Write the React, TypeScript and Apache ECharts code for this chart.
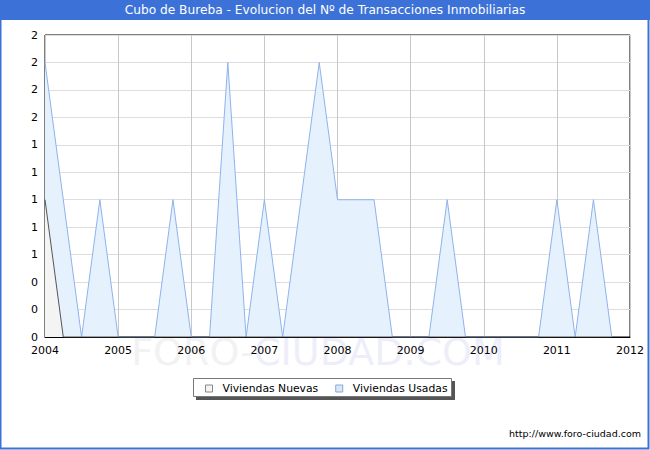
import React, { useEffect, useRef } from "react";
import * as echarts from "echarts";

const TITLE = "Cubo de Bureba - Evolucion del Nº de Transacciones Inmobiliarias";
const URL_TEXT = "http://www.foro-ciudad.com";
const START_YEAR = 2004;
const END_YEAR = 2012;
const seriesNames = ["Viviendas Nuevas", "Viviendas Usadas"];
// quarterly values, 2004 T1 .. 2011 T4
const viviendasNuevas = [1, 0, 0, 0, 0, 0, 0, 0, 0, 0, 0, 0, 0, 0, 0, 0, 0, 0, 0, 0, 0, 0, 0, 0, 0, 0, 0, 0, 0, 0, 0, 0];
const viviendasUsadas = [2, 1, 0, 1, 0, 0, 0, 1, 0, 0, 2, 0, 1, 0, 1, 2, 1, 1, 1, 0, 0, 0, 1, 0, 0, 0, 0, 0, 1, 0, 1, 0];
const xTickLabels = ["2004", "2005", "2006", "2007", "2008", "2009", "2010", "2011", "2012"];
const yTickLabels = ["0", "0", "0", "1", "1", "1", "1", "1", "2", "2", "2", "2"];
const Y_STEP = 0.2;

const FONT = "'DejaVu Sans', Verdana, sans-serif";

export default function App() {
  const ref = useRef<HTMLDivElement>(null);
  useEffect(() => {
    if (!ref.current) return;
    const chart = echarts.init(ref.current, undefined, { renderer: "svg" });
    const toPairs = (arr: number[]) => arr.map((v, i) => [START_YEAR + i / 4, v]);
    chart.setOption({
      animation: false,
      backgroundColor: "#ffffff",
      textStyle: { fontFamily: FONT },
      grid: {
        left: 45,
        top: 35,
        right: 20,
        bottom: 113,
        show: true,
        borderColor: "#000",
        borderWidth: 1,
        backgroundColor: "transparent",
        containLabel: false,
      },
      xAxis: {
        type: "value",
        min: START_YEAR,
        max: END_YEAR,
        interval: 1,
        axisLine: { show: true, lineStyle: { color: "#000", width: 1 } },
        axisTick: { show: false },
        axisLabel: {
          margin: 8,
          color: "#000",
          fontSize: 11,
          fontFamily: FONT,
          formatter: (v: number) => xTickLabels[Math.round(v - START_YEAR)] ?? "",
        },
        splitLine: { show: true, lineStyle: { color: "#c8c8c8", width: 1 } },
      },
      yAxis: {
        type: "value",
        min: 0,
        max: 2.2,
        interval: Y_STEP,
        axisLine: { show: false },
        axisTick: { show: false },
        axisLabel: {
          margin: 7,
          color: "#000",
          fontSize: 11,
          fontFamily: FONT,
          formatter: (v: number) => yTickLabels[Math.round(v / Y_STEP)] ?? "",
        },
        splitLine: { show: true, lineStyle: { color: "#dddddd", width: 1 } },
      },
      legend: {
        left: 205,
        top: 383,
        padding: 0,
        itemWidth: 7,
        itemHeight: 7,
        itemGap: 17,
        icon: "rect",
        textStyle: { fontSize: 10.8, color: "#000", fontFamily: FONT, padding: [0, 0, 0, 5] },
        data: [
          { name: seriesNames[0], itemStyle: { color: "#f4f4f4", borderColor: "#888", borderWidth: 1 } },
          { name: seriesNames[1], itemStyle: { color: "#d8e8fa", borderColor: "#8aa8d0", borderWidth: 1 } },
        ],
        z: 10,
      },
      graphic: [
        { type: "rect", shape: { x: 0.5, y: 0.5, width: 648, height: 448 }, style: { fill: "none", stroke: "#3c72d8", lineWidth: 2 }, z: 0 },
        { type: "rect", shape: { x: 0, y: 0, width: 650, height: 20 }, style: { fill: "#3c72d8" }, z: 1 },
        {
          type: "text",
          x: 325,
          y: 10,
          style: { text: TITLE, fill: "#fff", font: `12.2px ${FONT}`, align: "center", verticalAlign: "middle" },
          z: 2,
        },
        {
          type: "text",
          x: 318,
          y: 352,
          style: {
            text: "{a|FORO-}{b|CIUDAD.COM}",
            align: "center",
            verticalAlign: "middle",
            rich: {
              a: { fill: "#f2f2f2", fontSize: 38, fontFamily: FONT },
              b: { fill: "#eeeefb", fontSize: 38, fontFamily: FONT },
            },
          },
          z: 0,
        },
        { type: "rect", shape: { x: 196, y: 381, width: 259, height: 19 }, style: { fill: "#555" }, z: 3 },
        { type: "rect", shape: { x: 193.5, y: 378.5, width: 258, height: 18 }, style: { fill: "#fff", stroke: "#777", lineWidth: 1 }, z: 4 },
        {
          type: "text",
          x: 641,
          y: 433,
          style: { text: URL_TEXT, fill: "#000", font: `9.5px ${FONT}`, align: "right", verticalAlign: "middle" },
          z: 2,
        },
      ],
      series: [
        {
          name: seriesNames[1],
          type: "line",
          data: toPairs(viviendasUsadas),
          symbol: "none",
          lineStyle: { color: "#8fb2ec", width: 1 },
          itemStyle: { color: "#d8e8fa" },
          areaStyle: { color: "#e5f1fd", opacity: 1 },
          z: 2,
        },
        {
          name: seriesNames[0],
          type: "line",
          data: toPairs(viviendasNuevas),
          symbol: "none",
          lineStyle: { color: "#555", width: 1 },
          itemStyle: { color: "#f4f4f4" },
          areaStyle: { color: "#f4f4f4", opacity: 1 },
          z: 3,
        },
      ],
    });
    return () => chart.dispose();
  }, []);
  return <div ref={ref} style={{ position: "fixed", left: 0, top: 0, width: 650, height: 450 }} />;
}
